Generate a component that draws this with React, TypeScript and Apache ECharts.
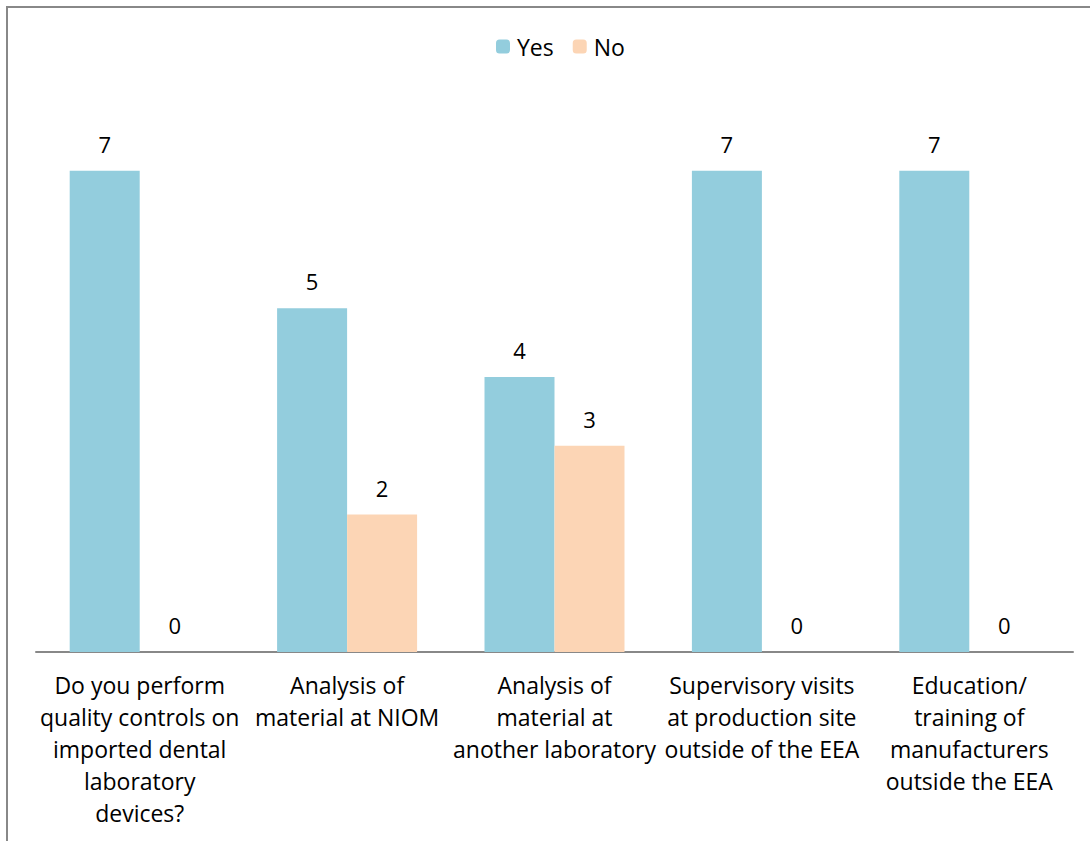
import React, { useEffect, useRef } from "react";
import * as echarts from "echarts";

const categories = [
  "Do you perform\nquality controls on\nimported dental\nlaboratory\ndevices?",
  "Analysis of\nmaterial at NIOM",
  "Analysis of\nmaterial at\nanother laboratory",
  "Supervisory visits\nat production site\noutside of the EEA",
  "Education/\ntraining of\nmanufacturers\noutside the EEA",
];
const yesValues = [7, 5, 4, 7, 7];
const noValues = [0, 2, 3, 0, 0];

const FONT = "'Open Sans', Lato, sans-serif";

export default function App() {
  const ref = useRef<HTMLDivElement>(null);
  useEffect(() => {
    if (!ref.current) return;
    const chart = echarts.init(ref.current, undefined, { renderer: "svg" });
    chart.setOption({
      animation: false,
      backgroundColor: "#ffffff",
      textStyle: { fontFamily: FONT },
      graphic: [
        {
          type: "rect",
          shape: { x: 7, y: 7, width: 1100, height: 900 },
          style: { fill: "none", stroke: "#888888", lineWidth: 2 },
          silent: true,
        },
      ],
      legend: {
        top: 35,
        left: 496,
        itemWidth: 14,
        itemHeight: 14,
        itemGap: 19,
        padding: 0,
        textStyle: { fontSize: 23, color: "#000", fontFamily: FONT, padding: [0, 0, 0, 2] },
        data: ["Yes", "No"],
      },
      grid: { left: 36, right: 17, top: 102, bottom: 189 },
      xAxis: {
        type: "category",
        data: categories,
        axisLine: { lineStyle: { color: "#888888", width: 2 } },
        axisTick: { show: false },
        axisLabel: {
          interval: 0,
          fontSize: 23,
          lineHeight: 32,
          color: "#000",
          margin: 17,
          fontFamily: FONT,
        },
      },
      yAxis: {
        type: "value",
        min: 0,
        max: 8,
        show: false,
        splitLine: { show: false },
      },
      series: [
        {
          name: "Yes",
          type: "bar",
          data: yesValues,
          barWidth: 70,
          barGap: "0%",
          itemStyle: { color: "#93CDDD" },
          label: {
            show: true,
            position: "top",
            distance: 16,
            fontSize: 22,
            color: "#000",
            fontFamily: FONT,
          },
        },
        {
          name: "No",
          type: "bar",
          data: noValues,
          barWidth: 70,
          barGap: "0%",
          itemStyle: { color: "#FCD5B5" },
          label: {
            show: true,
            position: "top",
            distance: 16,
            fontSize: 22,
            color: "#000",
            fontFamily: FONT,
          },
        },
      ],
    });
    return () => chart.dispose();
  }, []);
  return (
    <div
      ref={ref}
      style={{ position: "fixed", left: 0, top: 0, width: 1090, height: 841 }}
    />
  );
}
